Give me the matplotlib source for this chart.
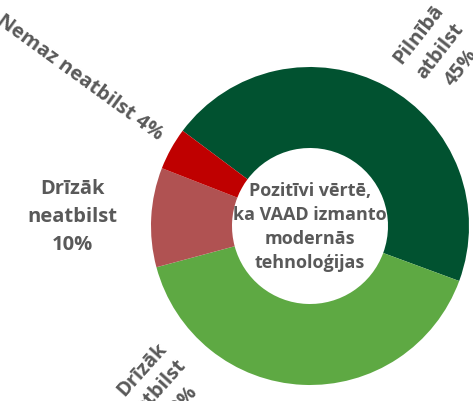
import numpy as np
import matplotlib
matplotlib.use('Agg')
import matplotlib.pyplot as plt

# share of respondents per answer (clockwise from the top-left)
categories = ['Pilnībā atbilst', 'Drīzāk atbilst', 'Drīzāk neatbilst', 'Nemaz neatbilst']
values = [45.4, 40.2, 10.1, 4.3]
colors = ['#015230', '#5EA943', '#B05252', '#BF0000']
center_text = 'Pozitīvi vērtē,\nka VAAD izmanto\nmodernās\ntehnoloģijas'

plt.rcParams['font.family'] = ['Open Sans', 'DejaVu Sans']
txt_color = '#595959'

fig = plt.figure(figsize=(4.73, 4.01), dpi=100)
ax = fig.add_axes([0, 0, 1, 1])

ax.pie(values, colors=colors, startangle=143.2, counterclock=False,
       center=(310, 175), radius=159,
       wedgeprops=dict(width=81, edgecolor='none'), frame=True)
ax.set_xlim(0, 473)
ax.set_ylim(0, 401)
ax.set_aspect('equal')
ax.axis('off')

ax.text(310, 174, center_text, ha='center', va='center', fontsize=13,
        fontweight='bold', color=txt_color, linespacing=1.45)

lab = ['%s\n%d%%' % (c.replace(' ', '\n'), round(v)) for c, v in zip(categories, values)]
fs = 14.5
# label placement (x, y, rotation)
ax.text(440, 350, lab[0], ha='center', va='center', rotation=52, rotation_mode='anchor',
        fontsize=fs, fontweight='bold', color=txt_color, linespacing=1.45)
ax.text(161, 14, lab[1], ha='center', va='center', rotation=48, rotation_mode='anchor',
        fontsize=fs, fontweight='bold', color=txt_color, linespacing=1.4)
ax.text(72, 184, lab[2], ha='center', va='center', fontsize=fs,
        fontweight='bold', color=txt_color, linespacing=1.5)
ax.text(80, 323, '%s %d%%' % (categories[3], round(values[3])), ha='center', va='center',
        rotation=-36, rotation_mode='anchor', fontsize=fs, fontweight='bold', color=txt_color)

fig.savefig('out.png', dpi=100)
